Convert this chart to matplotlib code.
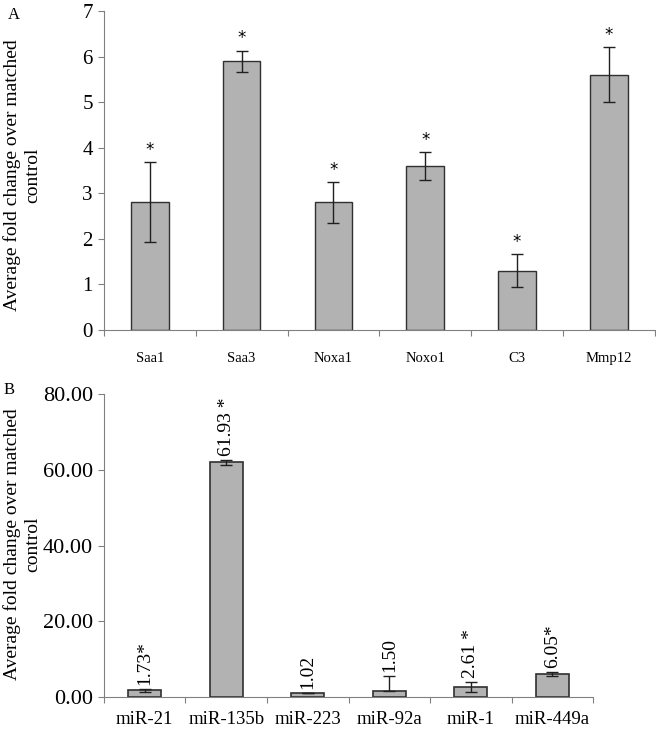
import matplotlib
matplotlib.use("Agg")
import matplotlib.pyplot as plt
import numpy as np

plt.rcParams["font.family"] = ["Liberation Serif", "DejaVu Serif"]

# panel A data
genes = ["Saa1", "Saa3", "Noxa1", "Noxo1", "C3", "Mmp12"]
gene_fold = [2.8, 5.9, 2.8, 3.6, 1.3, 5.6]
gene_err = [0.88, 0.23, 0.45, 0.3, 0.36, 0.6]

# panel B data
mirs = ["miR-21", "miR-135b", "miR-223", "miR-92a", "miR-1", "miR-449a"]
mir_fold = [1.73, 61.93, 1.02, 1.50, 2.61, 6.05]
mir_err_lo = [0.3, 0.7, 0.0, 0.0, 1.4, 0.6]
mir_err_hi = [0.3, 0.7, 0.0, 4.0, 1.4, 0.6]
mir_labels = ["1.73*", "61.93 *", "1.02", "1.50", "2.61 *", "6.05*"]

ylab = "Average fold change over matched\ncontrol"
bar_color = "#b2b2b2"
edge = "#303030"

fig = plt.figure(figsize=(6.56, 7.31), dpi=100)
axA = fig.add_axes([0.1585, 0.5486, 0.8395, 0.4364])
axB = fig.add_axes([0.1585, 0.0465, 0.7455, 0.4145])


def style(ax, n, ticksize):
    for s in ["top", "right"]:
        ax.spines[s].set_visible(False)
    ax.spines["left"].set_color("#808080")
    ax.spines["bottom"].set_color("#808080")
    ax.set_xlim(-0.5, n - 0.5)
    ax.set_xticks(np.arange(n + 1) - 0.5)
    ax.set_xticklabels([])
    ax.tick_params(axis="x", which="major", direction="out", length=4, color="#808080")
    ax.tick_params(axis="y", direction="out", length=4, color="#808080", labelsize=ticksize, pad=4)


x = np.arange(len(genes))
axA.bar(x, gene_fold, width=0.41, color=bar_color, edgecolor=edge, linewidth=1)
axA.errorbar(x, gene_fold, yerr=gene_err, fmt="none", ecolor="#202020", elinewidth=1, capsize=4)
for xi, v, e in zip(x, gene_fold, gene_err):
    axA.text(xi, v + e + 0.07, "*", ha="center", va="bottom", fontsize=12, family="DejaVu Sans")
axA.set_ylim(0, 7)
axA.set_yticks(range(8))
style(axA, len(genes), 15)
axA.set_xticks(x, minor=True)
axA.set_xticklabels(genes, minor=True, fontsize=10.5)
axA.tick_params(axis="x", which="minor", length=0, pad=16)

xb = np.arange(len(mirs))
axB.bar(xb, mir_fold, width=0.41, color=bar_color, edgecolor=edge, linewidth=1.2)
axB.errorbar(xb, mir_fold, yerr=[mir_err_lo, mir_err_hi], fmt="none", ecolor="#202020",
             elinewidth=1, capsize=4)
for xi, v, e, t in zip(xb, mir_fold, mir_err_hi, mir_labels):
    axB.annotate(t, (xi, v + e), xytext=(0, 3), textcoords="offset points",
                 rotation=90, ha="center", va="bottom", fontsize=14)
axB.set_ylim(0, 80)
axB.set_yticks([0, 20, 40, 60, 80])
axB.set_yticklabels(["%.2f" % t for t in [0, 20, 40, 60, 80]])
style(axB, len(mirs), 16)
axB.set_xticks(xb, minor=True)
axB.set_xticklabels(mirs, minor=True, fontsize=13.5)
axB.tick_params(axis="x", which="minor", length=0, pad=10)

fig.text(0.034, 0.76, ylab, rotation=90, ha="center", va="center",
         multialignment="center", fontsize=14, linespacing=1.25)
fig.text(0.034, 0.255, ylab, rotation=90, ha="center", va="center",
         multialignment="center", fontsize=14, linespacing=1.25)
fig.text(0.012, 0.99, "A", fontsize=12, va="top")
fig.text(0.006, 0.478, "B", fontsize=12, va="top")

fig.savefig("out.png", dpi=100)
